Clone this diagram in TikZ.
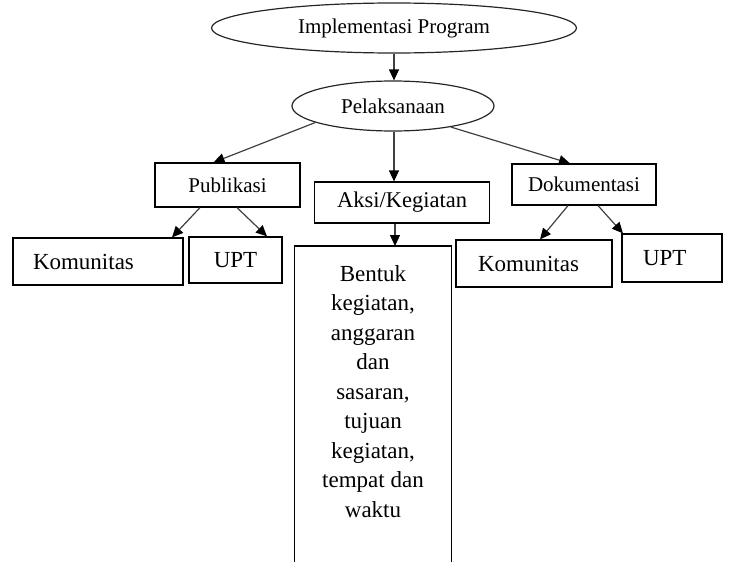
\documentclass[tikz,border=0pt]{standalone}
\usepackage{fontspec}
\setmainfont{Liberation Serif}
\usetikzlibrary{shapes.geometric,arrows.meta}
\begin{document}
\begin{tikzpicture}[x=1pt,y=-1pt,
  ell/.style={draw=black!85, line width=1.2pt, ellipse, inner sep=0pt},
  box/.style={draw=black, line width=1.2pt, rectangle, inner sep=0pt},
  lbl/.style={font=\fontsize{21}{25}\selectfont},
  bigfont/.style={font=\fontsize{23}{29.5}\selectfont},
  arr/.style={draw=black!75, line width=1.2pt, -{Triangle[length=11pt,width=10pt,color=black]}}]
\useasboundingbox (0,0) rectangle (729,562);

% ellipses
\node[ell, minimum width=365, minimum height=50, lbl] (impl) at (394,28) {Implementasi Program};
\node[ell, minimum width=202, minimum height=50, lbl] (pel) at (393,106) {Pelaksanaan};

% second level
\node[box, minimum width=145, minimum height=44, lbl] (pub) at (227.5,185) {Publikasi};
\node[box, minimum width=175, minimum height=41, font=\fontsize{22.5}{27}\selectfont] (aksi) at (402,202.5) {Aksi/Kegiatan};
\node[box, minimum width=144, minimum height=41, lbl] (dok) at (584,184.5) {Dokumentasi};

% third level
\node[box, minimum height=47, bigfont, align=left, text width=130, inner xsep=20pt] (kom1) at (98,261.5) {Komunitas};
\node[box, minimum width=93, minimum height=46, bigfont] (upt1) at (235.5,260) {UPT};
\node[box, minimum height=47, bigfont, align=left, text width=112, inner xsep=22pt] (kom2) at (534,263.5) {Komunitas};
\node[box, minimum height=48, bigfont, align=left, text width=58, inner xsep=21pt] (upt2) at (672,258) {UPT};

% detail box (open at the bottom)
\node[minimum width=156, minimum height=316, anchor=north, inner sep=0pt] (det) at (373,246) {};
\draw[line width=1.2pt] (det.south west) |- (det.north east) -- (det.south east);
\node[bigfont, align=center, anchor=north, inner sep=0pt] (dettxt) at (373,265.3)
  {Bentuk\\kegiatan,\\anggaran\\dan\\sasaran,\\tujuan\\kegiatan,\\tempat dan\\waktu};

% connectors
\draw[arr] (impl.south) -- (impl.south |- pel.north);
\draw[arr] (pel.192) -- ([xshift=-14pt]pub.north);
\draw[arr] ([xshift=1pt]pel.south) -- ([xshift=1pt]pel.south |- aksi.north);
\draw[arr] (pel.340) -- ([xshift=-14pt]dok.north);
\draw[arr] ([xshift=-7pt]aksi.south) -- ([xshift=-7pt]aksi.south |- det.north);
\draw[arr] ([xshift=-27.5pt]pub.south) -- ([xshift=74pt]kom1.north);
\draw[arr] ([xshift=9.5pt]pub.south) -- ([xshift=31.5pt]upt1.north);
\draw[arr] ([xshift=-16pt]dok.south) -- ([xshift=6pt]kom2.north);
\draw[arr] ([xshift=14pt]dok.south) -- ([xshift=-49pt]upt2.north);
\end{tikzpicture}
\end{document}
